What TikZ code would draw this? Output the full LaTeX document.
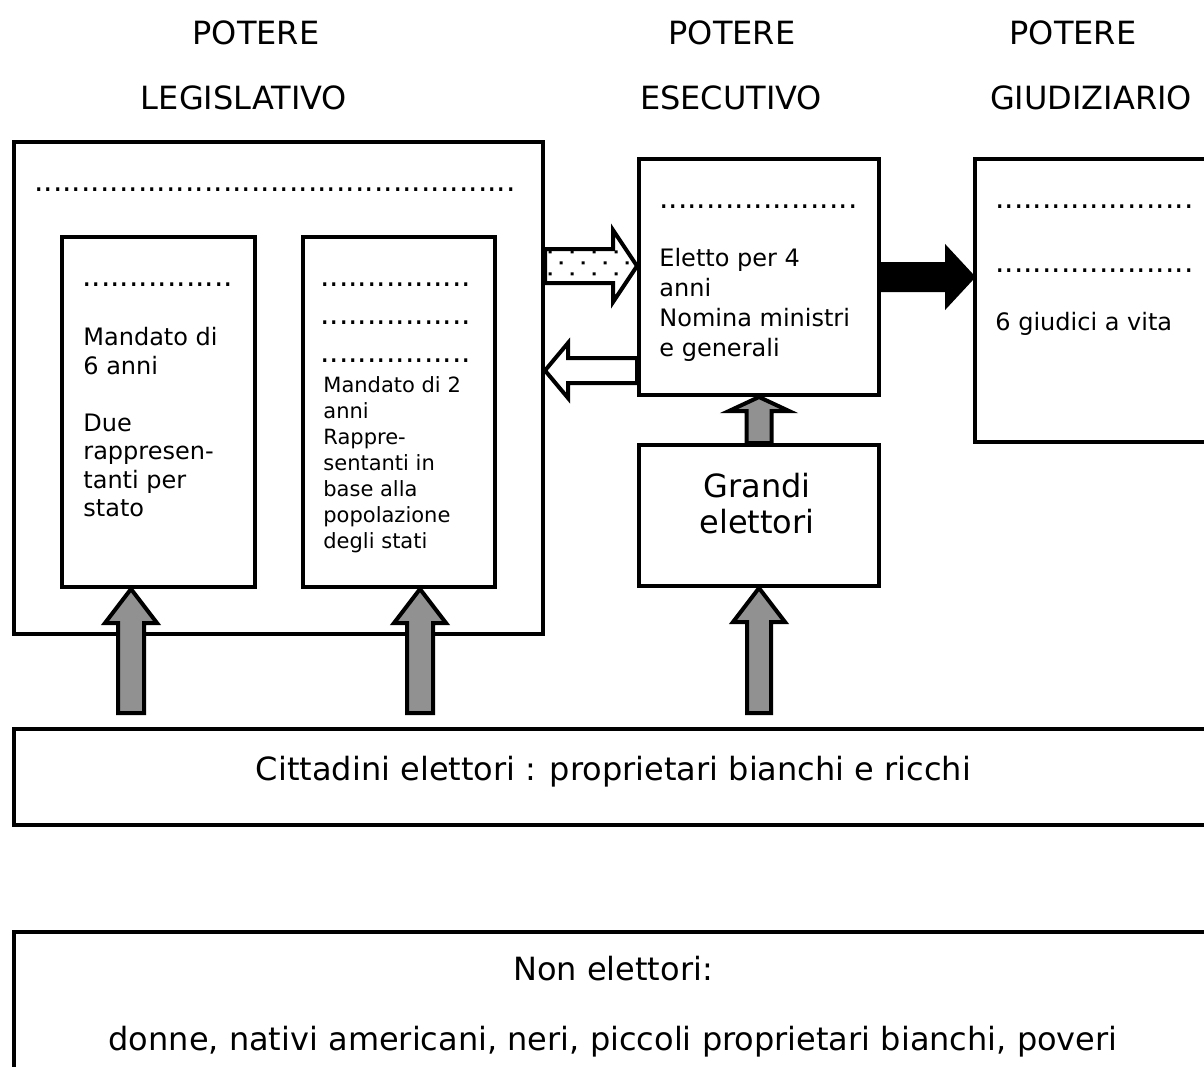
\documentclass[tikz,border=0pt]{standalone}
\usepackage{fontspec}
\setmainfont{DejaVu Sans}
\usepackage{tikz}
\usetikzlibrary{calc,patterns}
\definecolor{grigio}{RGB}{145,145,145}
\pgfdeclarepatternformonly{puntinirari}{\pgfqpoint{-1pt}{-1pt}}{\pgfqpoint{6.5pt}{6.5pt}}{\pgfqpoint{11pt}{11pt}}{%
  \pgfpathrectangle{\pgfqpoint{-0.75pt}{-0.75pt}}{\pgfqpoint{1.5pt}{1.5pt}}%
  \pgfpathrectangle{\pgfqpoint{4.75pt}{4.75pt}}{\pgfqpoint{1.5pt}{1.5pt}}%
  \pgfusepath{fill}}
\tikzstyle{scatola} = [draw=black, line width=2pt, anchor=north west, inner sep=0pt]
\tikzstyle{titolo} = [anchor=base, inner sep=0pt, font=\fontsize{16}{19}\selectfont]
\tikzstyle{testo} = [anchor=north west, inner sep=0pt, align=left, font=\fontsize{12}{14.25}\selectfont]
\tikzstyle{puntini} = [anchor=base west, inner sep=0pt, font=\fontsize{14.85}{16}\selectfont]
\tikzstyle{fgrigia} = [draw=black, line width=2pt, fill=grigio]
\tikzstyle{fbianca} = [draw=black, line width=2pt, fill=white]
\tikzstyle{fnera} = [draw=black, line width=2pt, fill=black]
\tikzstyle{fpunti} = [draw=black, line width=2pt, pattern=puntinirari]
% block arrow: style, tail, tip, half shaft, half head, head length
\newcommand{\freccia}[6]{%
  \coordinate (fbase) at ($(#3)!#6!(#2)$);
  \path[#1] ($(#2)!#4!90:(#3)$) -- ($(fbase)!#4!90:(#3)$)
    -- ($(fbase)!#5!90:(#3)$) -- (#3)
    -- ($(fbase)!#5!-90:(#3)$) -- ($(fbase)!#4!-90:(#3)$)
    -- ($(#2)!#4!-90:(#3)$) -- cycle;
}
\begin{document}
\begin{tikzpicture}[x=0.5pt, y=-0.5pt]
\useasboundingbox (0,0) rectangle (1204,1066);
\clip (0,0) rectangle (1204,1066);

% titles =============================
\node[titolo] (t-leg1) at (256,44) {POTERE};
\node[titolo] (t-leg2) at (244,109) {LEGISLATIVO};
\node[titolo] (t-ese1) at (732,44) {POTERE};
\node[titolo] (t-ese2) at (731,109) {ESECUTIVO};
\node[titolo] (t-giu1) at (1073,44) {POTERE};
\node[titolo] (t-giu2) at (1091,109) {GIUDIZIARIO};

% legislativo =============================
\node[scatola, minimum width=264.5pt, minimum height=246pt] (L) at (12,140) {};
\node[puntini] (L-dots) at (33.8,191.2) {...................................................};

\node[scatola, minimum width=96.5pt, minimum height=175pt] (S) at (60,235) {};
\node[puntini] (S-dots) at (81.8,286.2) {................};
\node[testo] (S-txt) at (83,327) {Mandato di\\6 anni\\ \\Due\\rappresen-\\tanti per\\stato};

\node[scatola, minimum width=96pt, minimum height=175pt] (C) at (301,235) {};
\node[puntini] (C-dots1) at (319.8,286.2) {................};
\node[puntini] (C-dots2) at (319.8,324.2) {................};
\node[puntini] (C-dots3) at (319.8,362.2) {................};
\node[testo, font=\fontsize{10.5}{13}\selectfont] (C-txt) at (323,376)
  {Mandato di 2\\anni\\Rappre-\\sentanti in\\base alla\\popolazione\\degli stati};

% esecutivo =============================
\node[scatola, minimum width=120pt, minimum height=118pt] (E) at (637,157) {};
\node[puntini] (E-dots) at (658.8,208.9) {.....................};
\node[testo, font=\fontsize{12}{15}\selectfont] (E-txt) at (659,248)
  {Eletto per 4\\anni\\Nomina ministri\\e generali};

\node[scatola, minimum width=120pt, minimum height=70.5pt] (GE) at (637,443) {};
\node[testo, anchor=north, align=center, font=\fontsize{16}{18}\selectfont] (GE-txt) at (757,473) {Grandi\\elettori};

% giudiziario =============================
\node[scatola, minimum width=124pt, minimum height=141.5pt] (G) at (973,157) {};
\node[puntini] (G-dots1) at (994.8,208.9) {.....................};
\node[puntini] (G-dots2) at (994.8,272.2) {.....................};
\node[testo] (G-txt) at (995,312) {6 giudici a vita};

% elettori =============================
\node[scatola, minimum width=604pt, minimum height=48pt] (CE) at (12,727) {};
\node[titolo] (CE-txt) at (613.5,780) {Cittadini elettori : proprietari bianchi e ricchi};

\node[scatola, minimum width=604pt, minimum height=80pt] (NE) at (12,930) {};
\node[titolo] (NE-txt1) at (613,980) {Non elettori:};
\node[titolo] (NE-txt2) at (613,1050) {donne, nativi americani, neri, piccoli proprietari bianchi, poveri};

% arrows
\coordinate (a1s) at (L.east |- 0,266);
\coordinate (a1e) at (E.west |- a1s);
\freccia{fpunti}{a1s}{a1e}{8.5pt}{18pt}{12pt}

\coordinate (a2s) at (E.west |- 0,370.5);
\coordinate (a2e) at (L.east |- a2s);
\freccia{fbianca}{a2s}{a2e}{6.25pt}{13.75pt}{11.5pt}

\coordinate (a3e) at (G.west |- E.east);
\freccia{fnera}{E.east}{a3e}{6.5pt}{14pt}{13pt}

\coordinate (a4e) at (E.south);
\freccia{fgrigia}{GE.north}{a4e}{6.25pt}{15pt}{7pt}

\coordinate (a5e) at (GE.south);
\coordinate (a5s) at (a5e |- 0,713);
\freccia{fgrigia}{a5s}{a5e}{6pt}{13pt}{17pt}

\coordinate (a6e) at (S.south -| 131,0);
\coordinate (a6s) at (a6e |- 0,713);
\freccia{fgrigia}{a6s}{a6e}{6.5pt}{13pt}{17pt}

\coordinate (a7e) at (C.south -| 420,0);
\coordinate (a7s) at (a7e |- 0,713);
\freccia{fgrigia}{a7s}{a7e}{6.5pt}{13pt}{17pt}

\end{tikzpicture}
\end{document}
